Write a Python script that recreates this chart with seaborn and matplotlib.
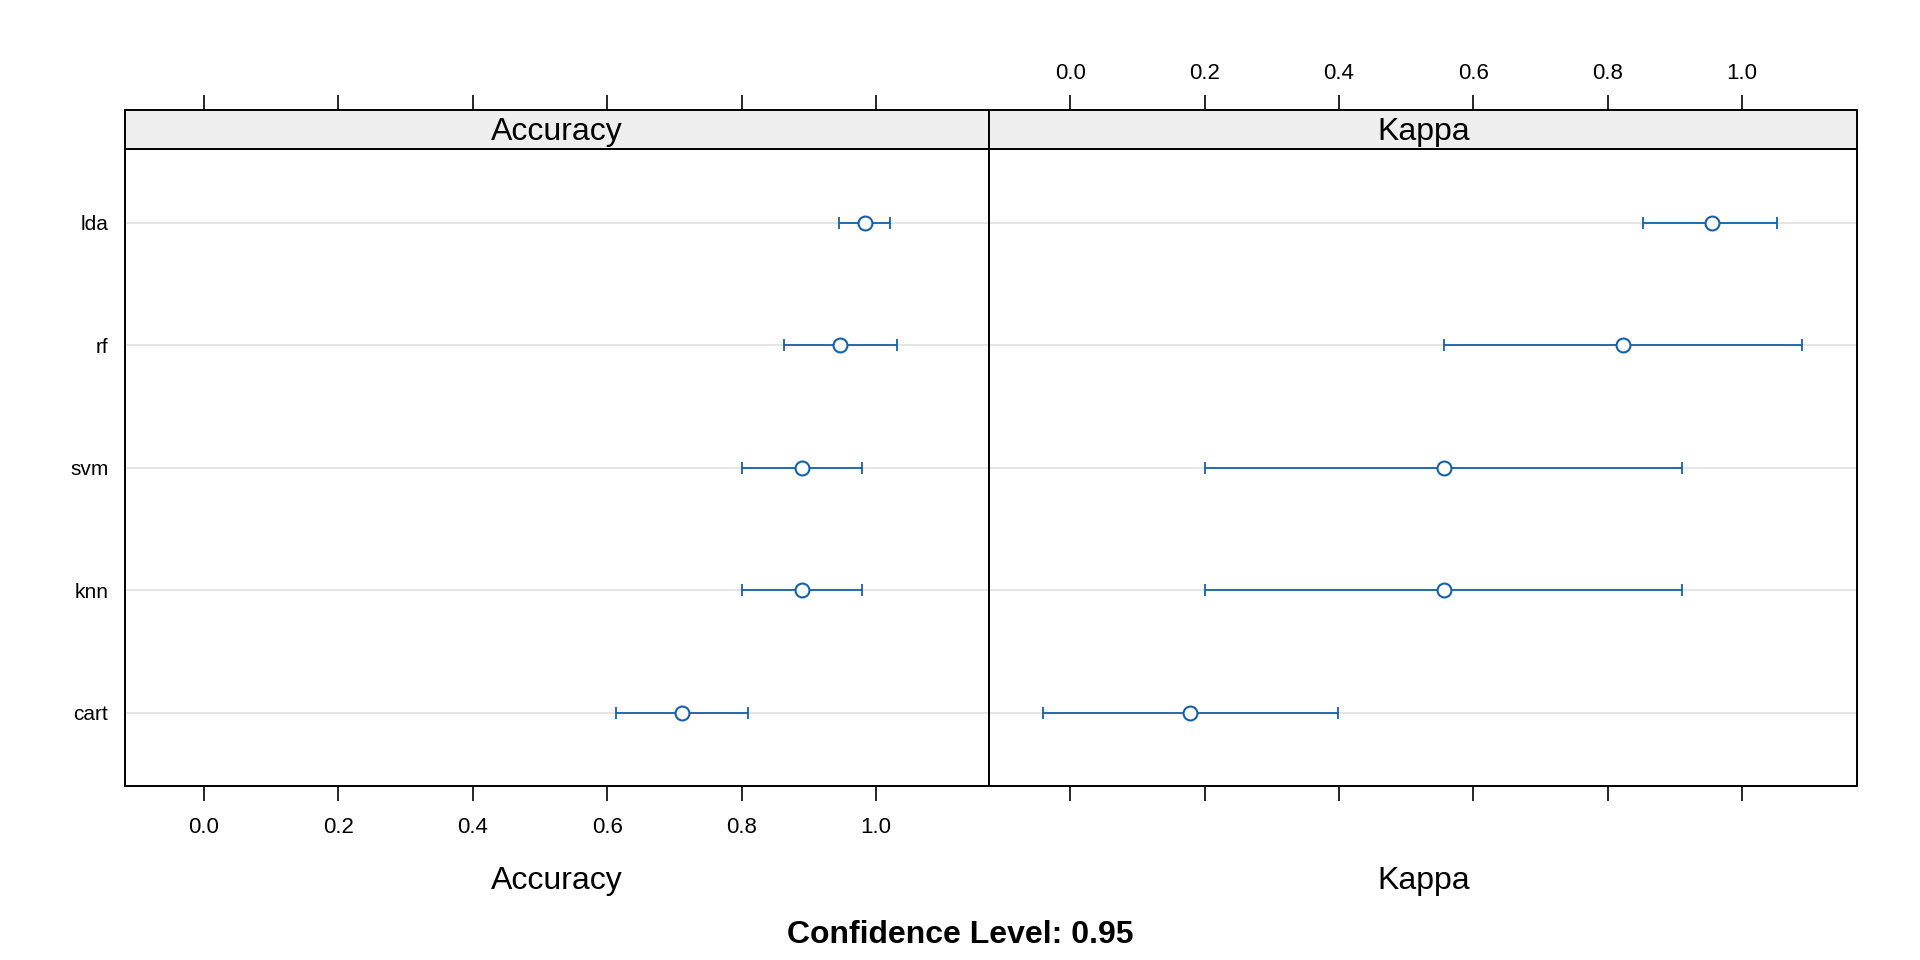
import numpy as np
import pandas as pd
import seaborn as sns
import matplotlib.pyplot as plt

# model order top to bottom
models = ["lda", "rf", "svm", "knn", "cart"]

# accuracy: point estimate and 95% interval
acc_mean = [0.983, 0.947, 0.890, 0.890, 0.711]
acc_lower = [0.945, 0.863, 0.801, 0.801, 0.613]
acc_upper = [1.021, 1.031, 0.979, 0.979, 0.809]

# kappa: point estimate and 95% interval
kappa_mean = [0.955, 0.822, 0.556, 0.556, 0.178]
kappa_lower = [0.853, 0.556, 0.200, 0.200, -0.040]
kappa_upper = [1.051, 1.089, 0.911, 0.911, 0.398]

metrics = ["Accuracy", "Kappa"]
x_ticks = [0.0, 0.2, 0.4, 0.6, 0.8, 1.0]
conf_level = 0.95

df = pd.DataFrame({
    "model": models * 2,
    "metric": ["Accuracy"] * 5 + ["Kappa"] * 5,
    "mean": acc_mean + kappa_mean,
    "lower": acc_lower + kappa_lower,
    "upper": acc_upper + kappa_upper,
})
df["pos"] = df["model"].map({m: i for i, m in enumerate(models)})

sns.set_theme(style="white", rc={"text.color": "black", "xtick.color": "black",
                                 "ytick.color": "black", "axes.labelcolor": "black"})
plt.rcParams["font.family"] = ["Liberation Sans", "DejaVu Sans"]

blue = "#1461ab"
fig = plt.figure(figsize=(19.2, 9.6), dpi=100)

body_bottom, body_top, strip_top = 0.1813, 0.8444, 0.8852
lefts = [0.0651, 0.5153]
rights = [0.5153, 0.9672]
xlims = [(-0.1174, 1.1687), (-0.1201, 1.1708)]

for i, metric in enumerate(metrics):
    sub = df[df["metric"] == metric]
    l, r = lefts[i], rights[i]
    ax = fig.add_axes([l, body_bottom, r - l, body_top - body_bottom])
    sax = fig.add_axes([l, body_top, r - l, strip_top - body_top])

    # reference lines
    for p in range(len(models)):
        ax.axhline(p, color="#e3e3e3", lw=1.3, zorder=0)

    ax.errorbar(sub["mean"], sub["pos"],
                xerr=[sub["mean"] - sub["lower"], sub["upper"] - sub["mean"]],
                fmt="none", ecolor=blue, elinewidth=1.3, capsize=4.5, capthick=1.3, zorder=2)
    sns.scatterplot(data=sub, x="mean", y="pos", ax=ax, marker="o", s=100,
                    color=blue, facecolor="white", edgecolor=blue, linewidth=1.5,
                    legend=False, zorder=3)

    ax.set_xlim(*xlims[i])
    ax.set_ylim(len(models) - 0.4, -0.6)
    ax.set_xlabel("")
    ax.set_ylabel("")
    ax.set_xticks(x_ticks)
    ax.set_xticklabels([f"{t:.1f}" for t in x_ticks])
    ax.set_yticks(range(len(models)))
    ax.set_yticklabels(models if i == 0 else [])
    ax.tick_params(axis="x", bottom=True, top=False, labelbottom=(i == 0),
                   length=11, width=1.2, direction="out", labelsize=16, pad=11, color="black")
    ax.tick_params(axis="y", left=False, right=False, labelleft=(i == 0),
                   length=0, labelsize=15, pad=12)
    for s in ax.spines.values():
        s.set_color("black")
        s.set_linewidth(1.4)

    # strip on top
    sax.set_facecolor("#eeeeee")
    sax.set_xlim(*xlims[i])
    sax.set_ylim(0, 1)
    sax.set_yticks([])
    sax.set_xticks(x_ticks)
    sax.set_xticklabels([f"{t:.1f}" for t in x_ticks])
    sax.tick_params(axis="x", top=True, bottom=False, labeltop=(i == 1), labelbottom=False,
                    length=11, width=1.2, direction="out", labelsize=16, pad=8, color="black")
    for s in sax.spines.values():
        s.set_color("black")
        s.set_linewidth(1.4)
    sax.text(0.5, 0.45, metric, transform=sax.transAxes, ha="center", va="center", fontsize=23)

    fig.text((l + r) / 2, 0.0825, metric, ha="center", va="center", fontsize=23)

fig.text(0.5, 0.026, f"Confidence Level: {conf_level}", ha="center", va="center",
         fontsize=23, fontweight="bold")

fig.savefig("out.png", dpi=100)
